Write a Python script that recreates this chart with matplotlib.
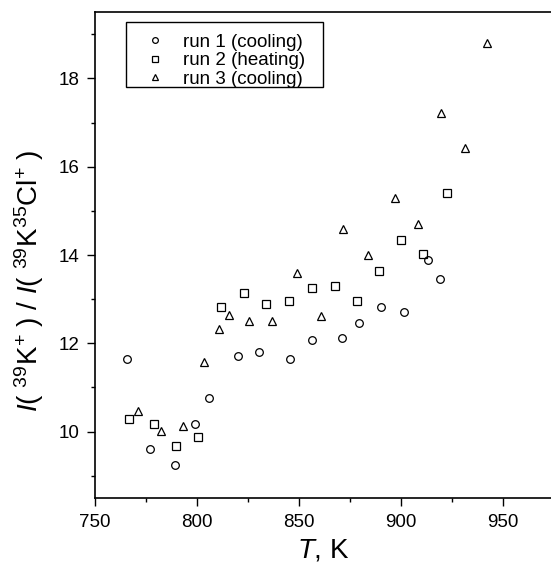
import matplotlib
matplotlib.use("Agg")
import matplotlib.pyplot as plt
from matplotlib.patches import Rectangle

plt.rcParams['font.family'] = ['Liberation Sans', 'DejaVu Sans']
plt.rcParams['mathtext.fontset'] = 'custom'
plt.rcParams['mathtext.rm'] = 'Liberation Sans'
plt.rcParams['mathtext.it'] = 'Liberation Sans:italic'

# run 1 (cooling)
t1 = [765.5, 777.0, 789.4, 799.1, 805.9, 820.2, 830.2, 845.4, 856.4, 871.2,
      879.4, 890.2, 901.6, 913.1, 919.0]
r1 = [11.64, 9.61, 9.23, 10.17, 10.77, 11.70, 11.81, 11.64, 12.08, 12.11,
      12.47, 12.83, 12.70, 13.89, 13.46]

# run 2 (heating)
t2 = [766.9, 778.8, 789.9, 800.6, 811.6, 822.9, 833.9, 845.1, 856.4, 867.6,
      878.3, 889.2, 900.0, 910.8, 922.5]
r2 = [10.28, 10.17, 9.68, 9.87, 12.83, 13.14, 12.90, 12.95, 13.26, 13.30,
      12.96, 13.64, 14.34, 14.03, 15.41]

# run 3 (cooling)
t3 = [771.2, 782.3, 793.0, 803.6, 810.6, 815.8, 825.3, 836.9, 848.9, 860.9,
      871.7, 884.0, 897.1, 908.5, 919.5, 931.5, 942.0]
r3 = [10.46, 10.02, 10.12, 11.58, 12.33, 12.64, 12.51, 12.51, 13.60, 12.61,
      14.60, 14.00, 15.29, 14.71, 17.21, 16.42, 18.80]

W, H = 551, 566
fig = plt.figure(figsize=(W/100, H/100), dpi=100)
ax = fig.add_axes([95/W, 1 - 497.7/H, 1 - 95/W, (497.7 - 12.3)/H])

ms = 5.5
ax.plot(t1, r1, 'o', ms=ms, mfc='none', mec='black', mew=0.9, label='run 1 (cooling)')
ax.plot(t2, r2, 's', ms=ms, mfc='none', mec='black', mew=0.9, label='run 2 (heating)')
ax.plot(t3, r3, '^', ms=ms, mfc='none', mec='black', mew=0.9, label='run 3 (cooling)')

ax.set_xlim(750, 973.5)
ax.set_ylim(8.5, 19.5)
ax.set_xticks([750, 800, 850, 900, 950])
ax.set_xticks([775, 825, 875, 925], minor=True)
ax.set_yticks([10, 12, 14, 16, 18])
ax.set_yticks([9, 11, 13, 15, 17, 19], minor=True)
ax.spines['right'].set_visible(False)
for s in ['left', 'top', 'bottom']:
    ax.spines[s].set_linewidth(1.2)
ax.tick_params(which='major', direction='out', length=5.5, width=1.0,
               labelsize=13.5, pad=6)
ax.tick_params(which='minor', direction='out', length=3, width=1.0)

ax.set_xlabel('$T$, K', fontsize=20, labelpad=5)
ax.set_ylabel(r'$I$( $^{39}$K$^{+}$ ) / $I$( $^{39}$K$^{35}$Cl$^{+}$ )',
              fontsize=20)
ax.yaxis.set_label_coords(-0.108, 0.446)

# legend entries without frame, box drawn separately
ax.legend(loc='upper left', bbox_to_anchor=(138/W, 1 - 26/H),
          bbox_transform=fig.transFigure, borderaxespad=0,
          fontsize=13.5, frameon=False,
          markerscale=0.75, handlelength=1.0, handletextpad=0.99,
          labelspacing=0.08, borderpad=0.4)
fig.patches.append(Rectangle((125.7/W, 1 - 87.3/H), 197/W, 65/H,
                             transform=fig.transFigure, fill=False,
                             edgecolor='black', linewidth=1.0))

fig.savefig('out.png', dpi=100)
